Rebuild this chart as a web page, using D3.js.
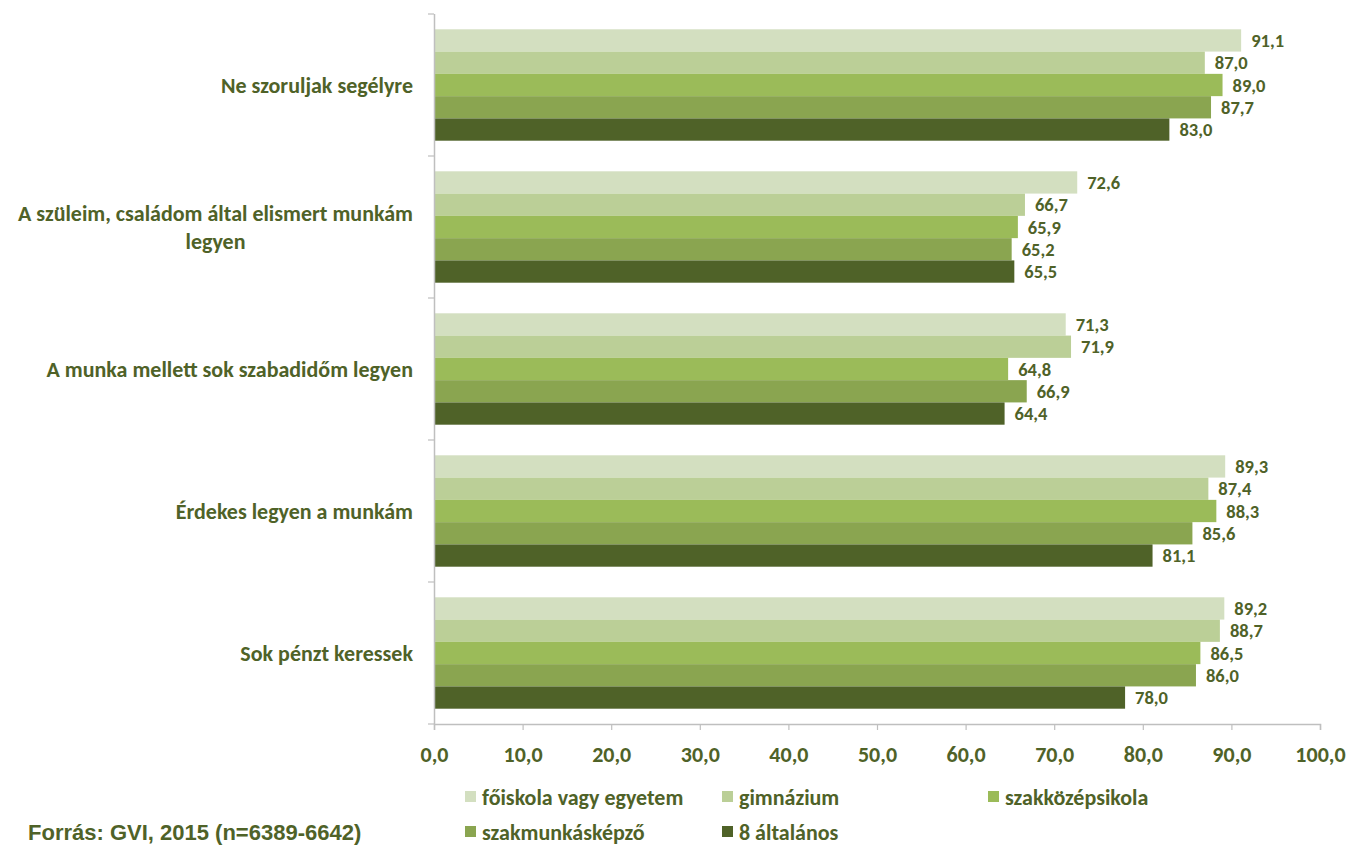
<!DOCTYPE html>
<html><head><meta charset="utf-8">
<script src="https://cdn.jsdelivr.net/npm/d3@7"></script>
<style>
body{margin:0;background:#fff;}
svg{display:block;}
text{font-family:Carlito,"Open Sans",sans-serif;font-weight:bold;fill:#4F6228;}
</style></head>
<body>
<svg id="chart" width="1360" height="845"></svg>
<script>
const categories = [
  ["Ne szoruljak segélyre"],
  ["A szüleim, családom által elismert munkám", "legyen"],
  ["A munka mellett sok szabadidőm legyen"],
  ["Érdekes legyen a munkám"],
  ["Sok pénzt keressek"]
];
const seriesNames = ["főiskola vagy egyetem", "gimnázium", "szakközépsikola", "szakmunkásképző", "8 általános"];
const seriesColors = ["#D3DFC0", "#BBCF97", "#9BBB59", "#8AA550", "#4F6228"];
const fosikola = [91.1, 72.6, 71.3, 89.3, 89.2];
const gimnazium = [87.0, 66.7, 71.9, 87.4, 88.7];
const szakkozep = [89.0, 65.9, 64.8, 88.3, 86.5];
const szakmunkas = [87.7, 65.2, 66.9, 85.6, 86.0];
const altalanos = [83.0, 65.5, 64.4, 81.1, 78.0];
const seriesValues = [fosikola, gimnazium, szakkozep, szakmunkas, altalanos];
const xTicks = [0, 10, 20, 30, 40, 50, 60, 70, 80, 90, 100];
const sourceText = "Forrás: GVI, 2015 (n=6389-6642)";

const svg = d3.select("#chart");
const mLeft = 434, mRight = 1320, mTop = 14, mBottom = 724;
const fmt = v => v.toFixed(1).replace(".", ",");

const x = d3.scaleLinear().domain([0, 100]).range([mLeft, mRight]);
const y = d3.scaleBand().domain(d3.range(categories.length)).range([mTop, mBottom]).padding(0);
const bw = y.bandwidth();
const ys = d3.scaleBand().domain(d3.range(seriesNames.length)).range([15.3, bw - 15.3]).padding(0);

// bars
const g = svg.append("g");
categories.forEach((c, ci) => {
  seriesValues.forEach((vals, si) => {
    const v = vals[ci];
    const y0 = y(ci) + ys(si);
    g.append("rect").attr("x", x(0)).attr("y", y0).attr("width", x(v) - x(0)).attr("height", ys.bandwidth())
      .attr("fill", seriesColors[si]);
    g.append("text").attr("x", x(v) + 10).attr("y", y0 + ys.bandwidth() / 2).attr("dy", "0.36em")
      .attr("font-size", 18.5).text(fmt(v));
  });
});

// y axis
const yAxis = svg.append("g");
yAxis.append("line").attr("x1", mLeft + 0.5).attr("x2", mLeft + 0.5).attr("y1", mTop).attr("y2", mBottom).attr("stroke", "#BFBFBF").attr("stroke-width", 1.5);
d3.range(categories.length + 1).forEach(i => {
  const yy = mTop + i * bw;
  yAxis.append("line").attr("x1", mLeft - 6).attr("x2", mLeft).attr("y1", yy).attr("y2", yy).attr("stroke", "#BFBFBF").attr("stroke-width", 1.2);
});
// category labels
categories.forEach((lines, ci) => {
  const cy = y(ci) + bw / 2;
  const lh = 28;
  const t = svg.append("g");
  const texts = lines.map((l, li) => t.append("text").attr("font-size", 22)
    .attr("y", cy + (li - (lines.length - 1) / 2) * lh).attr("dy", "0.36em").text(l));
  const maxW = d3.max(texts, tx => tx.node().getComputedTextLength());
  texts.forEach(tx => tx.attr("x", 413 - maxW / 2).attr("text-anchor", "middle"));
});

// x axis
const xAxis = svg.append("g").attr("transform", `translate(0,${mBottom})`)
  .call(d3.axisBottom(x).tickValues(xTicks).tickSize(6).tickFormat(fmt).tickPadding(16));
xAxis.select(".domain").attr("stroke", "#BFBFBF").attr("stroke-width", 1.5);
xAxis.selectAll(".tick line").attr("stroke", "#BFBFBF").attr("stroke-width", 1.2);
xAxis.selectAll(".tick text").attr("font-size", 22).attr("font-family", null).attr("fill", "#4F6228");

// legend
const legendPos = [[465, 797], [722, 797], [988, 797], [465, 832], [722, 832]];
seriesNames.forEach((n, i) => {
  const [lx, ly] = legendPos[i];
  svg.append("rect").attr("x", lx).attr("y", ly - 6).attr("width", 11).attr("height", 11).attr("fill", seriesColors[i]);
  svg.append("text").attr("x", lx + 17).attr("y", ly).attr("dy", "0.36em").attr("font-size", 22).text(n);
});

// source
svg.append("text").attr("x", 28).attr("y", 840).attr("font-size", 22)
  .style("font-family", "'Liberation Sans', Arial, sans-serif").text(sourceText);
</script>
</body></html>
